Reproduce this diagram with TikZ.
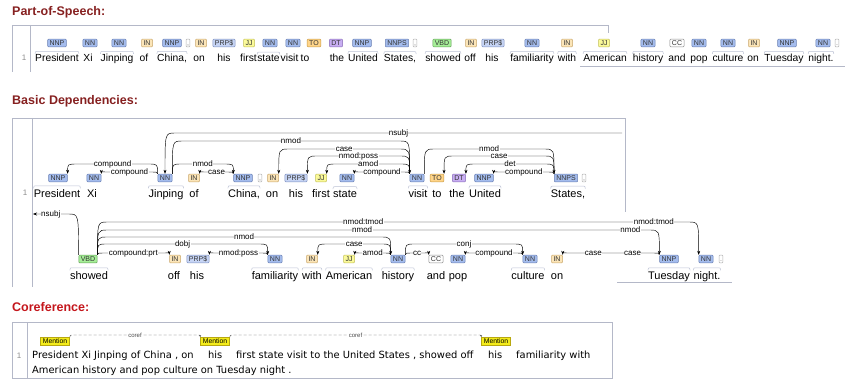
\documentclass[tikz,border=0pt]{standalone}
\usepackage{fontspec}
\setmainfont{Liberation Sans}
\newfontfamily\corefont{DejaVu Sans}
\usetikzlibrary{arrows.meta,calc}

\definecolor{headred}{HTML}{862020}
\definecolor{corefred}{HTML}{C4161C}
\definecolor{framegray}{HTML}{B4B8C8}
\definecolor{curlygray}{HTML}{BCC2D4}
\definecolor{nnfill}{HTML}{A4BCED}\definecolor{nnedge}{HTML}{6A80B4}
\definecolor{infill}{HTML}{FBE5B8}\definecolor{inedge}{HTML}{C9A66A}
\definecolor{tofill}{HTML}{FFD58A}\definecolor{toedge}{HTML}{C99A45}
\definecolor{jjfill}{HTML}{FBFA9A}\definecolor{jjedge}{HTML}{C2BE55}
\definecolor{vbfill}{HTML}{A6EE98}\definecolor{vbedge}{HTML}{5C9C50}
\definecolor{dtfill}{HTML}{C8AEF2}\definecolor{dtedge}{HTML}{8468B4}
\definecolor{prpfill}{HTML}{C6D4F4}\definecolor{prpedge}{HTML}{7F90C0}
\definecolor{mentfill}{HTML}{F4EC1A}\definecolor{mentedge}{HTML}{B8A810}

\begin{document}
\begin{tikzpicture}[x=1pt,y=-1pt,
  heading/.style={anchor=west,inner sep=0pt,font=\fontsize{12.5}{14}\selectfont\bfseries,text=headred},
  word/.style={anchor=base,inner sep=0pt,font=\fontsize{11}{13}\selectfont},
  posword/.style={word,font=\fontsize{10.3}{12}\selectfont},
  tagbox/.style={draw,rounded corners=1pt,line width=0.5pt,inner xsep=2pt,inner ysep=1.2pt,
    text height=5.2pt,text depth=0.3pt,font=\fontsize{7}{8}\selectfont,text=black!80},
  tagnn/.style={tagbox,fill=nnfill,draw=nnedge},
  tagin/.style={tagbox,fill=infill,draw=inedge},
  tagto/.style={tagbox,fill=tofill,draw=toedge},
  tagjj/.style={tagbox,fill=jjfill,draw=jjedge},
  tagvb/.style={tagbox,fill=vbfill,draw=vbedge},
  tagdt/.style={tagbox,fill=dtfill,draw=dtedge},
  tagprp/.style={tagbox,fill=prpfill,draw=prpedge},
  tagcc/.style={tagbox,fill=white,draw=black!45},
  tagpu/.style={tagbox,fill=white,draw=black!30,inner xsep=1pt,text=black!50},
  curly/.style={draw=curlygray,line width=0.5pt},
  deparc/.style={-{Stealth[length=4pt,width=3pt]},line width=0.45pt},
  deplab/.style={font=\fontsize{8}{9}\selectfont,fill=white,inner sep=0.4pt},
  frame/.style={draw=framegray,line width=0.6pt},
  lineno/.style={font=\fontsize{8}{9}\selectfont,text=black!45,inner sep=0pt},
  mention/.style={draw=mentedge,fill=mentfill,line width=0.4pt,inner xsep=2.5pt,inner ysep=1pt,
    text height=5pt,text depth=0.5pt,font=\fontsize{6.8}{7}\selectfont},
  corefarc/.style={densely dashed,line width=0.35pt,draw=black!70},
  coreflab/.style={font=\fontsize{6}{7}\selectfont,fill=white,inner sep=0.5pt,text=black!70},
  coreftext/.style={anchor=base west,inner sep=0pt,font=\corefont\fontsize{9.9}{11}\selectfont}
]
\useasboundingbox (0,0) rectangle (851,385);

% Part-of-Speech
\node[heading] (hpos) at (12,12) {Part-of-Speech:};
\draw[frame] (12,72) -- (12,25) -- (608,25) -- (608,33);
\draw[frame] (30,25) -- (30,72);
\draw[frame] (580,66) -- (845,66);
\node[lineno] (npos) at (24,58) {1};
\foreach \x/\t/\s [count=\i] in {57/NNP/tagnn,90/NN/tagnn,119/NN/tagnn,147/IN/tagin,172/NNP/tagnn,
  188/{,}/tagpu,201/IN/tagin,224/PRP\$/tagprp,249/JJ/tagjj,270/NN/tagnn,293/NN/tagnn,314/TO/tagto,
  336/DT/tagdt,362/NNP/tagnn,397/NNPS/tagnn,415/{,}/tagpu,442/VBD/tagvb,471/IN/tagin,493/PRP\$/tagprp,
  532/NN/tagnn,567/IN/tagin,604/JJ/tagjj,648/NN/tagnn,677/CC/tagcc,699/NN/tagnn,728/NN/tagnn,
  754/IN/tagin,787/NNP/tagnn,823/NN/tagnn,837/./tagpu}
  \node[\s] (p\i) at (\x,43) {\t};
\foreach \x/\w [count=\i] in {57/President,88/Xi,117/Jinping,144/of,172/{China,},199/on,224/his,
  248.5/first,268.5/state,289.5/visit,305/to,337/the,363/United,400/{States,},443/showed,470/off,492/his,
  532/familiarity,567/with,605/American,648/history,677/and,699/pop,728/culture,753/on,
  784/Tuesday,821/night.}
  \node[posword] (pw\i) at (\x,62) {\w};
\foreach \i in {1,3,5,9,13,14,15,18,19,20,21,24,26,27}
  \draw[curly] ($(pw\i.north west)+(0,-0.5)$) .. controls ($(pw\i.north west)+(0,-3)$) .. ($(pw\i.north west)+(4,-3)$)
    -- ($(pw\i.north east)+(-4,-3)$) .. controls ($(pw\i.north east)+(0,-3)$) .. ($(pw\i.north east)+(0,-0.5)$);

% Basic Dependencies
\node[heading] (hdep) at (12,101) {Basic Dependencies:};
\draw[frame] (12,287) -- (12,118) -- (625,118) -- (625,212);
\draw[frame] (32,118) -- (32,287);
\draw[frame] (617,282) -- (732,282);
\node[lineno] (ndep) at (25,193) {1};
% first line
\foreach \n/\x/\t/\s in {pres/58/NNP/tagnn,xi/94/NN/tagnn,j/165/NN/tagnn,of/194/IN/tagin,
  china/243/NNP/tagnn,ca/260/{,}/tagpu,on/273/IN/tagin,his/296/PRP\$/tagprp,first/321/JJ/tagjj,
  state/347/NN/tagnn,visit/417/NN/tagnn,to/437/TO/tagto,the/459/DT/tagdt,united/484/NNP/tagnn,
  states/566/NNPS/tagnn,cb/584/{,}/tagpu}
  \node[\s] (\n) at (\x,178) {\t};
\foreach \x/\w [count=\i] in {57/President,92/Xi,166/Jinping,194/of,244/{China,},272/on,296/his,
  321/first,345/state,418/visit,437/to,457/the,485/United,568/{States,}}
  \node[word] (da\i) at (\x,197) {\w};
\foreach \i in {1,3,5,9,10,13,14}
  \draw[curly] ($(da\i.north west)+(0,-0.5)$) .. controls ($(da\i.north west)+(0,-3)$) .. ($(da\i.north west)+(4,-3)$)
    -- ($(da\i.north east)+(-4,-3)$) .. controls ($(da\i.north east)+(0,-3)$) .. ($(da\i.north east)+(0,-0.5)$);
% second line
\foreach \n/\x/\t/\s in {vbd/88/VBD/tagvb,off/175/IN/tagin,hisb/198/PRP\$/tagprp,fam/275/NN/tagnn,
  with/312/IN/tagin,amer/349/JJ/tagjj,hist/398/NN/tagnn,and/436/CC/tagcc,pop/458/NN/tagnn,
  cult/530/NN/tagnn,onb/557/IN/tagin,tues/669/NNP/tagnn,night/706/NN/tagnn,pb/721/./tagpu}
  \node[\s] (\n) at (\x,259) {\t};
\foreach \x/\w [count=\i] in {89/showed,174/off,197/his,275/familiarity,312/with,349/American,
  398/history,436/and,458/pop,528/culture,557/on,669/Tuesday,707/night.}
  \node[word] (db\i) at (\x,279) {\w};
\foreach \i in {1,4,5,6,7,10,12,13}
  \draw[curly] ($(db\i.north west)+(0,-0.5)$) .. controls ($(db\i.north west)+(0,-3)$) .. ($(db\i.north west)+(4,-3)$)
    -- ($(db\i.north east)+(-4,-3)$) .. controls ($(db\i.north east)+(0,-3)$) .. ($(db\i.north east)+(0,-0.5)$);

% arcs: head/anchor/dependent/anchor/level/label
\foreach \h/\ha/\d/\da/\lv/\lab in {
  j/north west/pres/north east/164/compound, j/north west/xi/north east/172/compound,
  j/north east/china/north west/164/nmod, china/north west/of/north east/172/case,
  j/north east/visit/north west/141/nmod, visit/north west/on/north east/149/case,
  visit/north west/his/north east/156/nmod:poss, visit/north west/first/north east/164/amod,
  visit/north west/state/north east/172/compound, visit/north east/states/north west/149/nmod,
  states/north west/to/north east/156/case, states/north west/the/north east/164/det,
  states/north west/united/north east/172/compound,
  vbd/north east/hist/north west/237/nmod, vbd/north east/fam/north west/244/dobj,
  vbd/north east/off/north west/253/compound:prt, fam/north west/hisb/north east/253/nmod:poss,
  hist/north west/with/north east/244/case, hist/north west/amer/north east/253/amod,
  hist/north east/and/north west/253/cc, hist/north east/cult/north west/244/conj,
  cult/north west/pop/north east/253/compound}
  \draw[deparc] (\h.\ha) .. controls (\h.\ha |- 0,\lv) .. ($(\h.\ha |- 0,\lv)!10pt!(\d.\da |- 0,\lv)$)
    -- node[deplab] {\lab} ($(\d.\da |- 0,\lv)!10pt!(\h.\ha |- 0,\lv)$) .. controls (\d.\da |- 0,\lv) .. (\d.\da);

% arcs that wrap or carry two labels
\coordinate (nsubjR) at (622,133);
\coordinate (nsubjL) at (33,214);
\draw[deparc] (nsubjR) -- node[deplab] {nsubj} ($(j.north |- 0,133)!10pt!(nsubjR)$)
  .. controls (j.north |- 0,133) .. (j.north);
\draw[deparc] (vbd.north west) .. controls (vbd.north west |- 0,214) .. ($(vbd.north west |- 0,214)!10pt!(nsubjL)$)
  -- node[deplab] {nsubj} (nsubjL);
\draw[deparc] (vbd.north east) .. controls (vbd.north east |- 0,222) .. ($(vbd.north east |- 0,222)!10pt!(night.north west |- 0,222)$)
  -- node[deplab,pos=0.44] {nmod:tmod} node[deplab,pos=0.94] {nmod:tmod}
  ($(night.north west |- 0,222)!10pt!(vbd.north east |- 0,222)$) .. controls (night.north west |- 0,222) .. (night.north west);
\draw[deparc] (vbd.north east) .. controls (vbd.north east |- 0,230) .. ($(vbd.north east |- 0,230)!10pt!(tues.north west |- 0,230)$)
  -- node[deplab,pos=0.47] {nmod} node[deplab,pos=0.965] {nmod}
  ($(tues.north west |- 0,230)!10pt!(vbd.north east |- 0,230)$) .. controls (tues.north west |- 0,230) .. (tues.north west);
\draw[deparc] (tues.north west) .. controls (tues.north west |- 0,253) .. ($(tues.north west |- 0,253)!10pt!(onb.north east |- 0,253)$)
  -- node[deplab,pos=0.22] {case} node[deplab,pos=0.73] {case}
  ($(onb.north east |- 0,253)!10pt!(tues.north west |- 0,253)$) .. controls (onb.north east |- 0,253) .. (onb.north east);

% Coreference
\node[heading,text=corefred] (hcoref) at (12,307) {Coreference:};
\draw[frame] (12,322) rectangle (612,378);
\draw[frame] (27,322) -- (27,378);
\node[lineno] (ncoref) at (19,356) {1};
\node[mention] (m1) at (55,341) {Mention};
\node[mention] (m2) at (215,341) {Mention};
\node[mention] (m3) at (496,341) {Mention};
\foreach \a/\b in {m1/m2,m2/m3}
  \draw[corefarc,-{Stealth[length=2pt,width=2pt]}] (\a.north east) .. controls (\a.north east |- 0,335) .. ($(\a.north east |- 0,335)!5pt!(\b.north west |- 0,335)$)
    -- node[coreflab] {coref} ($(\b.north west |- 0,335)!5pt!(\a.north east |- 0,335)$) .. controls (\b.north west |- 0,335) .. (\b.north west);
\node[coreftext] (c1) at (32,358) {President Xi Jinping of China , on};
\node[coreftext] (c2) at (208,358) {his};
\node[coreftext] (c3) at (236,358) {first state visit to the United States , showed off};
\node[coreftext] (c4) at (488,358) {his};
\node[coreftext] (c5) at (516,358) {familiarity with};
\node[coreftext] (c6) at (32,373) {American history and pop culture on Tuesday night .};
\end{tikzpicture}
\end{document}
